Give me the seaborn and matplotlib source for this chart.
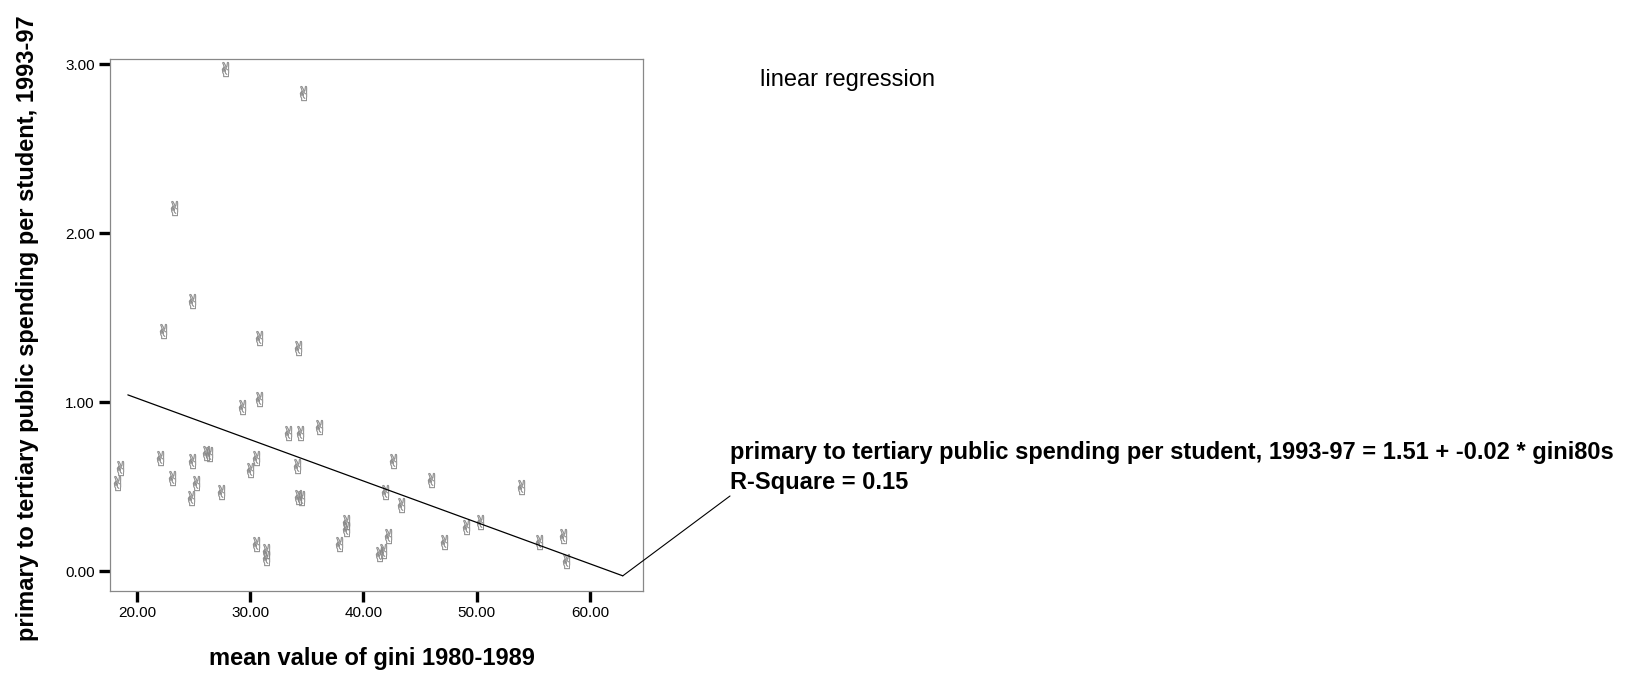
import numpy as np
import pandas as pd
import matplotlib
matplotlib.use("Agg")
import matplotlib.pyplot as plt
import seaborn as sns

# mean value of gini 1980-1989 vs primary to tertiary spending ratio
gini80s = [18.5, 18.2, 22.0, 23.1, 24.9, 25.2, 24.8, 26.1, 26.4, 27.4,
           29.3, 30.8, 30.5, 30.0, 30.5, 31.4, 31.4,
           33.3, 34.4, 36.1, 34.1, 34.2, 34.5, 38.5, 38.5, 37.8,
           42.6, 41.9, 43.3, 46.0, 42.2, 41.7, 41.4, 47.1,
           53.9, 49.1, 50.3, 55.5, 57.6, 57.9,
           23.3, 24.9, 22.3, 30.8, 34.2, 27.8, 34.7]
spending = [0.61, 0.52, 0.67, 0.55, 0.65, 0.52, 0.43, 0.70, 0.69, 0.47,
            0.97, 1.02, 0.67, 0.60, 0.16, 0.12, 0.08,
            0.82, 0.82, 0.85, 0.62, 0.44, 0.43, 0.29, 0.25, 0.16,
            0.65, 0.47, 0.39, 0.54, 0.21, 0.12, 0.10, 0.17,
            0.50, 0.26, 0.29, 0.17, 0.21, 0.06,
            2.15, 1.60, 1.42, 1.38, 1.32, 2.97, 2.83]

# fitted line as drawn in the picture (SPSS fit)
fit_range = [19.2, 62.9]
fit_intercept = 1.513
fit_slope = -0.0245

x_ticks = [20, 30, 40, 50, 60]
y_ticks = [0, 1, 2, 3]

df = pd.DataFrame({"gini": gini80s, "spend": spending})
fit = pd.DataFrame({"gini": fit_range})
fit["spend"] = fit_intercept + fit_slope * fit["gini"]

sns.set_style("white")
plt.rcParams["font.family"] = ["Liberation Sans", "DejaVu Sans"]
plt.rcParams["text.color"] = "black"
plt.rcParams["axes.labelcolor"] = "black"
plt.rcParams["xtick.color"] = "black"
plt.rcParams["ytick.color"] = "black"

fig = plt.figure(figsize=(16.41, 6.76), dpi=100)
ax = fig.add_axes([0.067, 0.1257, 0.3248, 0.787])

sns.scatterplot(data=df, x="gini", y="spend", marker="$\u270C$", s=115,
                color="#8a8a8a", edgecolor="#8a8a8a", linewidth=0.3, ax=ax)
sns.lineplot(data=fit, x="gini", y="spend", color="black", linewidth=0.9, ax=ax)

ax.set_xlim(17.62, 64.68)
ax.set_ylim(-0.118, 3.03)
ax.set_xticks(x_ticks)
ax.set_xticklabels([f"{v:.2f}" for v in x_ticks])
ax.set_yticks(y_ticks)
ax.set_yticklabels([f"{v:.2f}" for v in y_ticks])
ax.tick_params(axis="both", direction="out", length=8, width=2.4, color="black",
               labelcolor="black", labelsize=11, pad=3, bottom=True, left=True)
for sp in ax.spines.values():
    sp.set_color("#888888")
    sp.set_linewidth(0.9)
ax.set_xlabel("")
ax.set_ylabel("")

fig.text(371.5 / 1641, 1 - 658 / 676, "mean value of gini 1980-1989",
         ha="center", va="center", fontsize=17, fontweight="bold")
fig.text(28 / 1641, 1 - 328 / 676,
         "primary to tertiary public spending per student, 1993-97",
         ha="center", va="center", rotation=90, fontsize=17, fontweight="bold")

fig.text(760 / 1641, 1 - 80 / 676, "linear regression", ha="left", va="center", fontsize=17)

# leader from end of fit line to the equation
ax.annotate("", xy=(fit["gini"].iloc[-1], fit["spend"].iloc[-1]),
            xytext=(730, 676 - 496), textcoords="figure pixels",
            arrowprops=dict(arrowstyle="-", color="black", lw=0.8,
                            shrinkA=0, shrinkB=0), annotation_clip=False)
fig.text(730 / 1641, 1 - 453 / 676,
         "primary to tertiary public spending per student, 1993-97 = 1.51 + -0.02 * gini80s",
         ha="left", va="center", fontsize=17, fontweight="bold")
fig.text(730 / 1641, 1 - 482 / 676, "R-Square = 0.15",
         ha="left", va="center", fontsize=17, fontweight="bold")

fig.savefig("out.png", dpi=100)
